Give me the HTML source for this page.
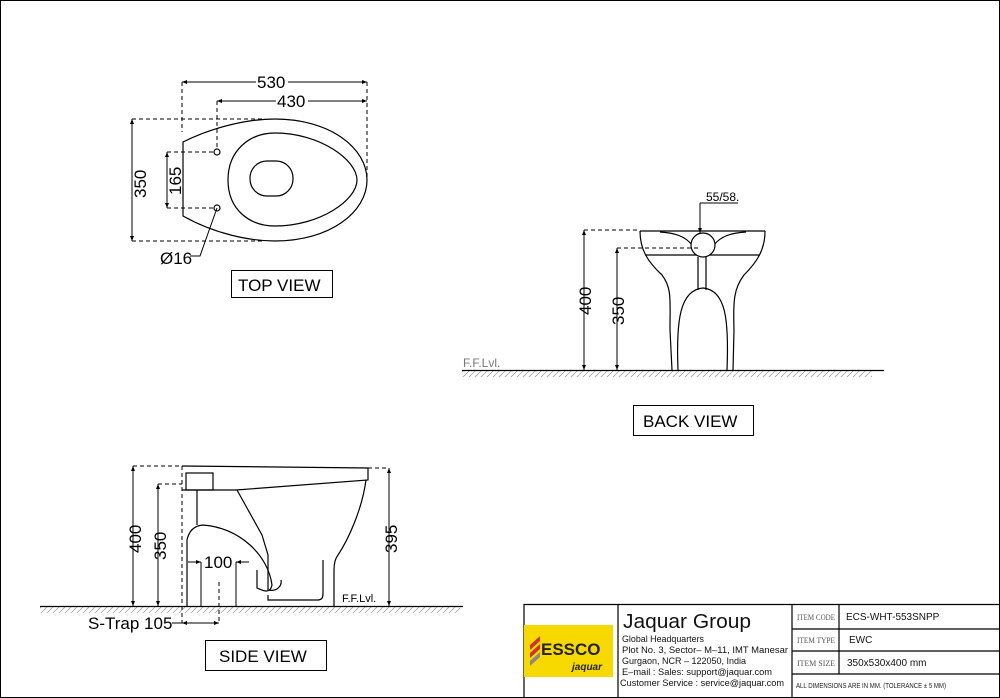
<!DOCTYPE html>
<html><head><meta charset="utf-8"><style>html,body{margin:0;padding:0;background:#fff}svg{display:block}</style></head><body>
<svg width="1000" height="698" viewBox="0 0 1000 698" xmlns="http://www.w3.org/2000/svg" font-family="Liberation Sans, sans-serif">
<defs>
<marker id="a" viewBox="0 0 10 10" refX="10" refY="5" markerWidth="7" markerHeight="5" orient="auto-start-reverse"><path d="M0,1 L10,5 L0,9z" fill="#000"/></marker>
<pattern id="h" width="6" height="6" patternUnits="userSpaceOnUse"><path d="M0,6 L6,0" stroke="#999" stroke-width="0.7"/></pattern>
</defs>
<rect x="0.5" y="0.5" width="999" height="697" fill="none" stroke="#000"/>
<g fill="none" stroke="#000" stroke-width="1.2">
<!-- TOP VIEW -->
<path d="M183,142 C215,126 250,119 275,119 C330,119 367,148 367,180 C367,212 330,241 275,241 C250,241 215,234 183,216 Z"/>
<path d="M228,180 C228,150 250,133 275,133 C320,133 357,160 357,180 C357,200 320,226 275,226 C250,226 228,210 228,180Z"/>
<rect x="250" y="161" width="43" height="35" rx="17"/>
<circle cx="217" cy="152" r="3"/><circle cx="217" cy="208" r="3"/>
</g>
<g fill="none" stroke="#000" stroke-width="1" stroke-dasharray="4,3">
<path d="M182,82V132M367,82V180M217,101V150M132,119H265M132,241H265M167,152H214M167,208H214"/>
</g>
<g stroke="#000" stroke-width="1" fill="none">
<path d="M182,82H367" marker-start="url(#a)" marker-end="url(#a)"/>
<path d="M217,101H367" marker-start="url(#a)" marker-end="url(#a)"/>
<path d="M132,119V241" marker-start="url(#a)" marker-end="url(#a)"/>
<path d="M167,152V208" marker-start="url(#a)" marker-end="url(#a)"/>
<path d="M217,208 L200,256 H190"/>
</g>
<g font-size="17" fill="#000">
<rect x="256" y="72" width="32" height="16" fill="#fff"/><text x="257" y="88">530</text>
<rect x="276" y="91" width="32" height="16" fill="#fff"/><text x="277" y="107">430</text>
<text transform="translate(146,198) rotate(-90)">350</text>
<text transform="translate(181,195) rotate(-90)">165</text>
<text x="160" y="264">Ø16</text>
</g>
<rect x="231.5" y="270.5" width="101" height="27" fill="none" stroke="#000"/>
<text x="238" y="291" font-size="17">TOP VIEW</text>

<!-- BACK VIEW -->
<rect x="462" y="371" width="410" height="6" fill="url(#h)"/>
<path d="M462,370.5H884" stroke="#000" stroke-width="1.2"/>
<text x="463" y="367" font-size="12" fill="#777">F.F.Lvl.</text>
<g fill="none" stroke="#000" stroke-width="1.2">
<path d="M640,231H765"/>
<path d="M640,231 C640,250 648,262 662,275 C672,288 670,300 670,330 L672,370"/>
<path d="M765,231 C765,250 757,262 744,275 C734,288 733,300 734,330 L733,370"/>
<path d="M646,255H760"/>
<path d="M678,370 C676,320 680,290 703,288 C726,290 729,320 727,370"/>
<path d="M698,257V290M706,257V290"/>
<path d="M660,232 C675,233 685,236 692,245 M746,232 C731,233 721,236 714,245"/>
<circle cx="703" cy="245" r="12" fill="#fff"/>
</g>
<g stroke="#000" stroke-width="1" fill="none">
<path d="M584,230V370" marker-start="url(#a)" marker-end="url(#a)"/>
<path d="M617,248V370" marker-start="url(#a)" marker-end="url(#a)"/>
<path d="M700,203V233" marker-end="url(#a)"/>
<path d="M700,203H738"/>
<path d="M584,230H640M617,248H700" stroke-dasharray="4,3"/>
</g>
<g font-size="17">
<text transform="translate(591,315) rotate(-90)">400</text>
<text transform="translate(624,325) rotate(-90)">350</text>
</g>
<text x="706" y="201" font-size="12">55/58.</text>
<rect x="633.5" y="405.5" width="120" height="30" fill="none" stroke="#000"/>
<text x="643" y="427" font-size="17">BACK VIEW</text>

<!-- SIDE VIEW -->
<rect x="40" y="607" width="420" height="6" fill="url(#h)"/>
<path d="M40,606.5H463" stroke="#000" stroke-width="1.2"/>
<g fill="none" stroke="#000" stroke-width="1.2">
<path d="M182,466 L368,468 V480 L236,490 H182"/>
<rect x="186" y="473" width="27" height="17"/>
<path d="M197,490V525"/>
<path d="M187,606 V540 Q190,526 203,525 C240,528 268,555 272,585 C270,595 262,590 257,588 V570"/>
<path d="M237,490 L262,535 L268,555 L268,590 C278,592 282,585 281,580"/>
<path d="M268,595 V600 H318 Q323,600 323,594 V560"/>
<path d="M366,480 C362,510 348,540 338,555 Q334,560 334,570 V606"/>
</g>
<g stroke="#000" stroke-width="1" fill="none">
<path d="M133,466V606" marker-start="url(#a)" marker-end="url(#a)"/>
<path d="M158,484V606" marker-start="url(#a)" marker-end="url(#a)"/>
<path d="M389,468V606" marker-start="url(#a)" marker-end="url(#a)"/>
<path d="M201,562V606M236,562V606"/>
<path d="M188,562H201" marker-end="url(#a)"/>
<path d="M249,562H236" marker-end="url(#a)"/>
<path d="M172,623H182"/>
<path d="M182,623H219" marker-start="url(#a)" marker-end="url(#a)"/>
<path d="M133,466H182M158,484H182M182,466V623M368,468H389M219,582V623" stroke-dasharray="4,3"/>
</g>
<g font-size="17">
<text transform="translate(141,553) rotate(-90)">400</text>
<text transform="translate(166,560) rotate(-90)">350</text>
<text transform="translate(397,553) rotate(-90)">395</text>
<text x="204" y="568">100</text>
<text x="88" y="629">S-Trap 105</text>
</g>
<text x="342" y="602" font-size="11">F.F.Lvl.</text>
<rect x="205.5" y="640.5" width="121" height="30" fill="none" stroke="#000"/>
<text x="219" y="662" font-size="17">SIDE VIEW</text>

<!-- TITLE BLOCK -->
<g fill="none" stroke="#000" stroke-width="1.2">
<path d="M524,698V604.5H1000"/>
<path d="M618,604V698M792,604V698M839,604V674M792,629H1000M792,651H1000M792,674H1000"/>
</g>
<rect x="524" y="625" width="89" height="52" fill="#f7d900"/>
<path d="M530,645 L540,636 L540,641 L530,650Z M530,653 L540,644 L540,649 L530,658Z" fill="#c33"/>
<path d="M530,661 L540,652 L540,657 L530,666Z" fill="#888"/>
<text x="541" y="655" font-size="17" font-weight="bold" fill="#222">ESSCO</text>
<text x="572" y="670" font-size="10" font-style="italic" font-weight="bold" fill="#222">jaquar</text>
<text x="623" y="628" font-size="20" fill="#111" textLength="128" lengthAdjust="spacingAndGlyphs">Jaquar Group</text>
<g font-size="9" fill="#111">
<text x="622" y="642" textLength="82" lengthAdjust="spacingAndGlyphs">Global Headquarters</text>
<text x="622" y="653" textLength="166" lengthAdjust="spacingAndGlyphs">Plot No. 3, Sector– M–11, IMT Manesar</text>
<text x="622" y="664" textLength="124" lengthAdjust="spacingAndGlyphs">Gurgaon, NCR – 122050, India</text>
<text x="622" y="675" textLength="150" lengthAdjust="spacingAndGlyphs">E–mail : Sales: support@jaquar.com</text>
<text x="620" y="686" textLength="164" lengthAdjust="spacingAndGlyphs">Customer Service : service@jaquar.com</text>
</g>
<g font-family="Liberation Serif, serif" font-size="8.5" fill="#555">
<text x="797" y="620" textLength="38" lengthAdjust="spacingAndGlyphs">ITEM CODE</text>
<text x="797" y="643" textLength="38" lengthAdjust="spacingAndGlyphs">ITEM TYPE</text>
<text x="797" y="666" textLength="38" lengthAdjust="spacingAndGlyphs">ITEM SIZE</text>
</g>
<g font-size="10" fill="#111">
<text x="846" y="620">ECS-WHT-553SNPP</text>
<text x="849" y="643">EWC</text>
<text x="847" y="666">350x530x400 mm</text>
</g>
<text x="796" y="688" font-size="7" fill="#222" textLength="150" lengthAdjust="spacingAndGlyphs">ALL DIMENSIONS ARE IN MM. (TOLERANCE ± 5 MM)</text>
</svg>
</body></html>
